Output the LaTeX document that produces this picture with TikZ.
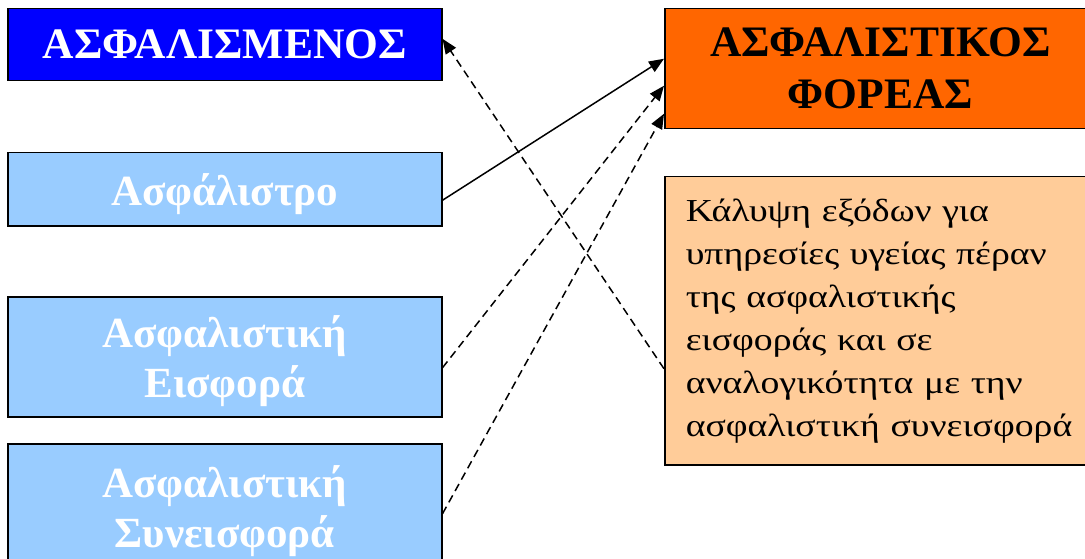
\documentclass[tikz,border=0pt]{standalone}
\usepackage{fontspec}
\setmainfont{Liberation Serif}
\newfontfamily\widefont[FakeStretch=1.18]{Liberation Serif}
\usetikzlibrary{arrows.meta, positioning, calc}
\definecolor{insblue}{RGB}{0,0,255}
\definecolor{itemblue}{RGB}{153,204,255}
\definecolor{carrierorange}{RGB}{255,102,0}
\definecolor{notepeach}{RGB}{255,204,153}

\begin{document}
\begin{tikzpicture}[
  x=1pt, y=-1pt,
  box/.style={
    rectangle, draw, line width=1.5pt, anchor=north west,
    inner sep=0pt, align=center
  },
  titlebox/.style={box, font=\fontsize{43.5}{52}\selectfont\bfseries},
  itembox/.style={box, fill=itemblue, text=white, minimum width=434pt,
    text depth=0pt, font=\fontsize{43}{50}\selectfont\bfseries},
  notebox/.style={box, fill=notepeach, align=left, inner xsep=21pt,
    text width=389pt, font=\widefont\fontsize{32}{43}\selectfont},
  arrow/.style={-{Triangle[length=15pt, width=12pt]}, line width=1.5pt},
  darrow/.style={arrow, dash pattern=on 8pt off 5pt},
]
\useasboundingbox (0,0) rectangle (1085,559);

% ---- Left column ----
\node[titlebox, fill=insblue, text=white, minimum width=434pt,
  minimum height=72pt] (insured) at (7,8) {ΑΣΦΑΛΙΣΜΕΝΟΣ};
\node[itembox, minimum height=73pt] (premium) at (7,152) {Ασφάλιστρο};
\node[itembox, minimum height=120pt] (contrib) at (7,296)
  {Ασφαλιστική\\Εισφορά};
\node[itembox, minimum height=126pt] (cocontrib) at (7,443)
  {Ασφαλιστική\\Συνεισφορά};

% ---- Right column ----
\node[titlebox, fill=carrierorange, minimum width=431pt,
  minimum height=120pt] (carrier) at (664,8) {ΑΣΦΑΛΙΣΤΙΚΟΣ\\ΦΟΡΕΑΣ};
\node[notebox, minimum height=288pt] (cover) at (664,176)
  {Κάλυψη εξόδων για\\υπηρεσίες υγείας πέραν\\της ασφαλιστικής\\εισφοράς και σε\\αναλογικότητα με την\\ασφαλιστική συνεισφορά};

% Arrows
\draw[arrow] ($(premium.east)+(0,11)$) -- ($(carrier.west)+(0,-10)$);
\draw[darrow] ($(contrib.east)+(0,11)$) -- ($(carrier.west)+(0,17)$);
\draw[darrow] ($(cocontrib.east)+(0,7)$) -- ($(carrier.west)+(0,45)$);
\draw[darrow] ($(cover.west)+(0,48)$) -- ($(insured.east)+(0,-6)$);

\end{tikzpicture}
\end{document}
